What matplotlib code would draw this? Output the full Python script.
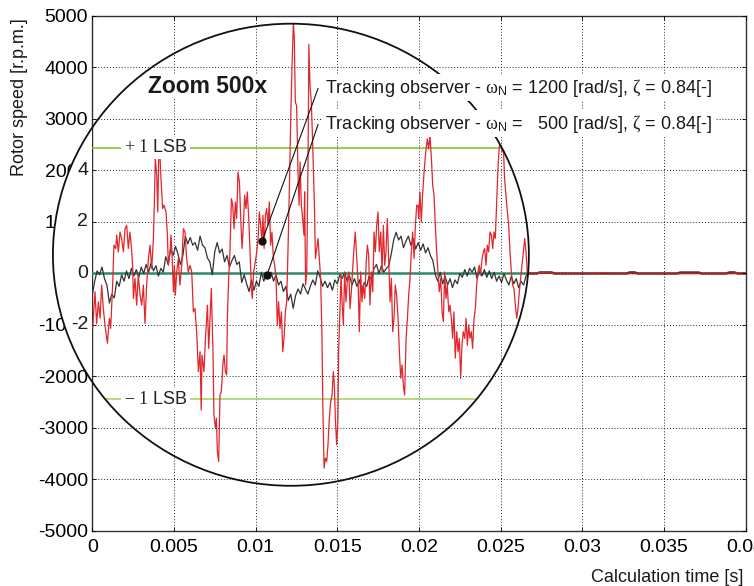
import numpy as np
import matplotlib.pyplot as plt
from matplotlib.patches import Ellipse, Rectangle

plt.rcParams['font.family'] = ['Liberation Sans', 'DejaVu Sans']
plt.rcParams['mathtext.fontset'] = 'custom'
plt.rcParams['mathtext.rm'] = 'Liberation Serif'
plt.rcParams['mathtext.it'] = 'Liberation Serif:italic'
plt.rcParams['mathtext.bf'] = 'Liberation Serif:bold'
plt.rcParams['mathtext.sf'] = 'Liberation Sans'
plt.rcParams['axes.unicode_minus'] = False

# speed error inside the magnifier, in rpm before the 500x zoom
zoom = 500
lsb = 4.88

# omega_N = 1200 rad/s observer (time in ms)
red_t = [0.03, 0.17, 0.27, 0.38, 0.48, 0.58, 0.68, 0.78, 0.93, 1.05, 1.13, 1.25, 1.33, 1.44, 1.50, 1.60,
         1.70, 1.80, 1.91, 2.01, 2.11, 2.21, 2.31, 2.42, 2.48, 2.52, 2.62, 2.72, 2.82, 2.93, 3.03, 3.13,
         3.23, 3.33, 3.44, 3.54, 3.64, 3.74, 3.80, 3.86, 3.95, 4.01, 4.07, 4.15, 4.21, 4.31, 4.39, 4.52,
         4.60, 4.66, 4.76, 4.82, 4.88, 4.97, 5.03, 5.09, 5.17, 5.27, 5.37, 5.48, 5.58, 5.68, 5.78, 5.88,
         5.99, 6.09, 6.19, 6.29, 6.39, 6.50, 6.60, 6.67, 6.72, 6.84, 6.92, 7.05, 7.13, 7.21, 7.29, 7.39,
         7.45, 7.54, 7.60, 7.66, 7.74, 7.82, 7.90, 8.01, 8.07, 8.15, 8.23, 8.27, 8.35, 8.43, 8.52, 8.60,
         8.68, 8.76, 8.84, 8.92, 9.01, 9.09, 9.17, 9.25, 9.33, 9.41, 9.49, 9.58, 9.66, 9.74, 9.80, 9.88,
         9.98, 10.07, 10.15, 10.23, 10.31, 10.39, 10.45, 10.52, 10.60, 10.68, 10.76, 10.84, 10.92, 11.00,
         11.09, 11.17, 11.25, 11.33, 11.41, 11.49, 11.58, 11.66, 11.74, 11.82, 11.90, 11.98, 12.07, 12.15,
         12.23, 12.31, 12.37, 12.43, 12.51, 12.60, 12.66, 12.72, 12.80, 12.88, 12.96, 13.00, 13.06, 13.13,
         13.21, 13.26, 13.33, 13.41, 13.49, 13.60, 13.66, 13.74, 13.82, 13.90, 13.98, 14.06, 14.11, 14.19,
         14.27, 14.35, 14.43, 14.51, 14.60, 14.68, 14.76, 14.82, 14.88, 14.96, 15.04, 15.08, 15.17, 15.23,
         15.29, 15.37, 15.45, 15.53, 15.62, 15.70, 15.78, 15.86, 15.94, 16.02, 16.10, 16.19, 16.27, 16.35,
         16.43, 16.51, 16.59, 16.68, 16.76, 16.84, 16.92, 17.00, 17.08, 17.17, 17.25, 17.33, 17.41, 17.49,
         17.57, 17.66, 17.74, 17.82, 17.90, 17.98, 18.06, 18.14, 18.23, 18.31, 18.39, 18.47, 18.55, 18.63,
         18.72, 18.80, 18.88, 18.96, 19.04, 19.12, 19.21, 19.29, 19.37, 19.45, 19.53, 19.61, 19.70, 19.78,
         19.86, 19.94, 19.98, 20.06, 20.14, 20.22, 20.31, 20.41, 20.51, 20.59, 20.67, 20.76, 20.84, 20.92,
         21.00, 21.08, 21.16, 21.24, 21.33, 21.41, 21.49, 21.57, 21.65, 21.73, 21.82, 21.90, 21.98, 22.06,
         22.14, 22.22, 22.31, 22.39, 22.47, 22.55, 22.63, 22.71, 22.80, 22.88, 22.96, 23.04, 23.12, 23.20,
         23.28, 23.37, 23.45, 23.53, 23.61, 23.69, 23.77, 23.86, 23.94, 24.02, 24.10, 24.18, 24.26, 24.35,
         24.43, 24.51, 24.59, 24.67, 24.75, 24.84, 24.92, 25.00, 25.08, 25.16, 25.24, 25.32, 25.41, 25.49,
         25.57, 25.65, 25.73, 25.81, 25.90, 25.98, 26.06, 26.14, 26.22, 26.30, 26.39, 26.47, 26.55, 26.63]
red_v = [-2.13, -0.71, -1.94, -1.10, -1.74, -0.45, -1.36, -2.00, -2.71, -1.74, -2.13, -0.45, 1.10, 0.97, 1.49, 0.84,
         1.61, 1.36, 0.84, 1.74, 1.87, 0.97, 1.61, 0.84, 0.19, -0.97, -0.19, -1.23, -0.06, -0.84, -1.23, -0.45,
         -1.94, -0.45, 0.58, 1.10, 0.19, 1.29, 2.65, 4.46, 3.81, 2.39, 4.46, 4.52, 3.68, 2.52, 2.65, 2.39,
         1.49, 0.32, 0.84, 1.49, 0.84, -0.71, 0.32, -0.84, 0.06, 0.58, -0.45, 0.32, 1.74, 1.61, 0.58, 0.06,
         0.32, 0.06, -1.49, -1.36, -2.26, -3.81, -3.04, -5.30, -3.17, -3.81, -2.65, -1.23, -2.91, -1.74, -0.58, -3.04,
         -5.49, -6.01, -5.62, -6.91, -7.30, -4.72, -4.59, -3.42, -3.17, -3.81, -3.94, -1.74, -0.19, 0.84, 2.91, 2.65,
         1.74, 2.78, 2.13, 3.94, 3.55, 2.13, 0.97, 1.87, 3.04, 2.52, 3.17, 2.13, 0.84, -0.58, -0.97, 0.06,
         0.45, 0.84, 1.36, 2.39, 1.87, 1.25, 2.26, 0.97, 2.26, 2.52, 1.87, 2.78, 1.10, 1.61,
         0.58, 0.32, -0.19, -2.00, -1.10, -2.13, -1.49, -3.04, -2.52, -1.49, -1.10, 0.84, 3.42, 6.01,
         8.07, 9.75, 9.11, 6.65, 6.52, 3.81, 2.65, 4.33, 2.65, 2.13, 1.49, 3.17, -0.45, 0.06,
         4.46, 8.90, 7.30, 6.65, 5.10, 2.65, 0.58, 0.97, 1.36, 0.58, -0.19, -2.39, -4.97, -7.56,
         -7.17, -7.30, -6.65, -5.62, -4.97, -4.72, -3.81, -4.33, -5.62, -6.65, -5.62, -3.04, -1.23, -0.06,
         -1.10, -2.00, 0.06, -1.10, -0.19, 0.06, -1.36, -0.71, 0.19, 0.97, 1.61, 0.58, -0.32, -2.26,
         0.06, -1.10, -0.45, -0.97, 0.32, 1.10, 0.71, -1.23, 0.06, -0.71, 1.61, 0.84, 1.87, 2.39,
         0.84, 1.61, 0.06, 1.87, 0.32, 0.84, 2.13, 0.58, -1.10, -0.19, -2.26, -1.74, -0.45, -0.84,
         -1.74, -3.04, -4.07, -3.55, -4.33, -4.72, -2.52, -1.74, -0.84, -0.19, 0.84, 1.61, 0.58, 1.87,
         2.65, 2.65, 2.13, 3.17, 2.00, 3.04, 3.94, 4.72, 5.23, 4.84, 5.36, 4.46, 3.42, 3.04,
         1.87, 0.84, 0.06, -0.71, -0.19, -1.49, -1.87, 0.06, -0.97, -0.45, -1.49, -1.23, -1.74, -2.52,
         -1.49, -3.29, -2.26, -3.04, -2.52, -4.07, -2.78, -2.26, -2.52, -1.74, -2.78, -2.00, -2.52, -2.26,
         -2.91, -1.74, -1.36, -0.45, 0.06, 0.32, -0.06, 0.58, 0.84, 0.97, 0.32, 1.10, 0.84, 1.61,
         1.49, 0.97, 1.61, 1.36, 2.65, 4.20, 4.97, 5.23, 4.72, 4.97, 3.68, 3.04, 2.39, 1.87,
         0.84, 0.06, -0.45, -0.58, -1.23, -1.74, -1.36, -0.71, -0.19, 0.32, 0.84, 1.36, 0.84, 0.00]

# omega_N = 500 rad/s observer, sampled every 0.15 ms
gray_dt = 0.15
gray_v = [-0.85, -0.3, 0.1, -0.05, 0.25, -0.2, -0.45, -1.15, -0.8, -0.95,
          -0.3, -0.5, -0.05, -0.3, 0.1, -0.2, 0.2, -0.1, 0.15, -0.15,
          0.25, 0.0, 0.35, 0.05, 0.4, 0.1, 0.3, -0.1, 0.2, 0.05,
          0.65, 0.35, 0.95, 0.7, 1.05, 0.75, 0.35, 0.7, 1.45, 1.15,
          1.4, 1.1, 1.2, 0.9, 1.45, 1.1, 1.0, 0.6, 0.45, -0.05,
          0.85, 1.2, 0.8, 0.95, 0.45, 0.7, 0.25, 0.5, 0.7, 0.35,
          0.45, -0.35, -0.05, -0.4, -0.7, -0.25, -0.65, -0.3, -0.5, 0.05,
          -0.3, -0.05, -0.1, 0.05, -0.3, -0.05, -0.45, -0.3, -0.7, -0.5,
          -1.05, -0.8, -1.35, -0.85, -0.6, -0.8, -0.4, -0.6, -0.8, -0.5,
          -0.25, -0.45, 0.1, -0.15, -0.5, -0.3, -0.55, -0.35, -0.65, -0.25,
          -0.4, -0.05, -0.2, 0.05, -0.3, -0.1, -0.45, -0.2, -0.5, -0.25,
          -0.7, -0.35, -0.5, -0.1, -0.25, 0.2, 0.35, 0.0, 0.3, 0.05,
          0.2, 0.3, 0.75, 1.3, 1.6, 1.3, 1.45, 1.0, 1.25, 1.45,
          1.1, 1.35, 0.95, 1.2, 0.9, 1.15, 0.8, 1.0, 0.7, 0.5,
          -0.05, -0.3, 0.05, -0.4, -0.1, -0.45, -0.2, -0.55, -0.25, -0.4,
          0.0, -0.15, 0.15, -0.1, 0.2, 0.05, 0.25, -0.2, 0.1, -0.1,
          0.15, -0.15, 0.1, -0.2, 0.05, -0.3, -0.1, -0.35, 0.0, -0.25,
          -0.45, -0.1, -0.4, -0.2, -0.55, -0.3, -0.45, -0.1, 0.0]

# unzoomed error after the magnifier, in rpm
out_t = [26.6, 27.2, 27.4, 28.1, 28.3, 30.9, 31.1, 31.6, 31.8, 32.7, 32.9, 33.2, 33.4,
         35.8, 36.0, 37.1, 37.3, 38.8, 39.0, 39.3, 39.5, 40.0]
out_gray = [0, 0, 20, 20, 0, 0, 0, 0, 0, 0, 20, 20, 0, 0, 18, 18, 0, 0, 20, 20, 0, 0]
out_red = [0, 0, 10, 8, 0, 0, 12, 12, 0, 0, 0, 0, 0, 0, 0, 0, 0, 0, 0, 0, 8, 10]

inner_ticks = [4, 2, 0, -2]

red_c = '#e1262c'
gray_c = '#333333'

fig = plt.figure(figsize=(7.54, 5.86), dpi=100)
ax_left = 0.1223
ax = fig.add_axes([ax_left, 0.0939, 0.8668, 0.8788])
ax.set_xlim(0, 0.04)
ax.set_ylim(-5000, 5000)
ax.set_xticks(np.arange(0, 0.0401, 0.005))
ax.set_xticklabels(['0', '0.005', '0.01', '0.015', '0.02', '0.025', '0.03', '0.035', '0.04'])
ax.set_yticks(np.arange(-5000, 5001, 1000))
ax.tick_params(direction='in', length=3, width=0.6, labelsize=14, top=True, right=True)
ax.tick_params(axis='x', pad=6)
ax.tick_params(axis='y', pad=3)
ax.grid(True, color='#222222', linestyle=(0, (1, 2)), linewidth=0.7)
ax.set_axisbelow(False)
for s in ax.spines.values():
    s.set_linewidth(1.0)
    s.set_color('#333333')

ax.plot(np.array(out_t) / 1000, out_gray, color=gray_c, lw=1.8, zorder=1)
ax.plot(np.array(out_t) / 1000, out_red, color=red_c, lw=1.2, zorder=1.1)

# magnifier
ctr = (0.01216, 364)
ew, eh = 0.02913, 8973
fill = Ellipse(ctr, ew, eh, facecolor='white', edgecolor='none', zorder=2)
ax.add_patch(fill)
cover = Ellipse(ctr, ew, eh, facecolor='white', edgecolor='none', zorder=3.5)
ax.add_patch(cover)
cover.set_clip_path(Rectangle((0, 0), ax_left, 1, transform=fig.transFigure))
ring = Ellipse(ctr, ew, eh, facecolor='none', edgecolor='#111111', lw=1.3,
               zorder=4, clip_on=False)
ax.add_patch(ring)

inside = []
inside += ax.plot([0, 0.03], [0, 0], color='#2f8a68', lw=1.8, zorder=2.8)
inside += ax.plot([0, 0.03], [lsb * zoom] * 2, color='#7cbf2e', lw=1.1, zorder=2.9)
inside += ax.plot([0, 0.03], [-lsb * zoom] * 2, color='#9fd05e', lw=1.1, zorder=2.9)
gray_t = np.arange(len(gray_v)) * gray_dt
inside += ax.plot(gray_t / 1000, np.array(gray_v) * zoom, color=gray_c, lw=0.9, zorder=3)
inside += ax.plot(np.array(red_t) / 1000, np.array(red_v) * zoom, color=red_c, lw=0.9, zorder=3.1)
for ln in inside:
    ln.set_clip_path(fill)

box = dict(facecolor='white', edgecolor='none', pad=2)
ax.text(0.00387, lsb * zoom, r'$+\ 1$ LSB', fontsize=13, ha='center', va='center',
        color='#222222', bbox=box, zorder=3.3)
ax.text(0.00387, -lsb * zoom, r'$-\ 1$ LSB', fontsize=13, ha='center', va='center',
        color='#222222', bbox=box, zorder=3.3)
ax.text(0.00342, 3630, 'Zoom 500x', fontsize=16.5, fontweight='bold', ha='left', va='center',
        color='#1a1a1a', bbox=dict(facecolor='white', edgecolor='none', pad=1), zorder=5)

# scale of the magnified signal
for v in inner_ticks:
    ax.text(-0.0061, v * zoom, str(v), transform=ax.get_yaxis_transform(), fontsize=14,
            ha='right', va='center', color='#1a1a1a', zorder=3.6)

labels = [r'Tracking observer - $\mathrm{\omega}_{\mathsf{N}}$ = 1200 [rad/s], $\mathrm{\zeta}$ = 0.84[-]',
          r'Tracking observer - $\mathrm{\omega}_{\mathsf{N}}$ =   500 [rad/s], $\mathrm{\zeta}$ = 0.84[-]']
label_y = [3610, 2911]
dots = [(0.01039, 1.25), (0.010698, -0.07)]
for lab, ly, (dt, dv) in zip(labels, label_y, dots):
    ax.text(0.01425, ly, lab, fontsize=13, ha='left', va='center', color='#1a1a1a',
            bbox=box, zorder=5)
    ax.plot([0.01382, dt], [ly - 20, dv * zoom], color='#111111', lw=0.8, zorder=4.5)
    ax.plot([dt], [dv * zoom], 'o', ms=5, color='#111111', zorder=4.6)

fig.text(20 / 754, 0.835, 'Rotor speed [r.p.m.]', rotation=90, fontsize=13,
         ha='center', va='center', color='#1a1a1a')
fig.text(0.9854, 0.0137, 'Calculation time [s]', fontsize=13, ha='right', va='center',
         color='#1a1a1a')

fig.savefig('out.png', dpi=100)
